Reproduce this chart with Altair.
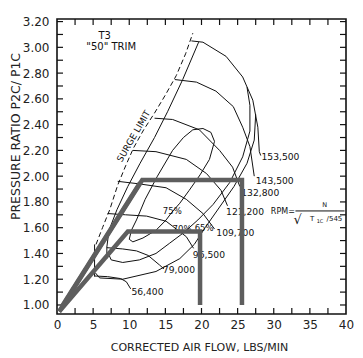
import altair as alt
import pandas as pd

X_DOMAIN = [0, 40]
Y_DOMAIN = [0.93, 3.22]
W, H = 289, 295

X_LABELS = [0, 5, 10, 15, 20, 25, 30, 35, 40]
Y_LABELS = [1.0, 1.2, 1.4, 1.6, 1.8, 2.0, 2.2, 2.4, 2.6, 2.8, 3.0, 3.2]
X_TICKS = [2.5, 5, 7.5, 10, 12.5, 15, 17.5, 20, 22.5, 25, 27.5, 30, 32.5, 35, 37.5]
Y_TICKS = [1.0, 1.1, 1.2, 1.3, 1.4, 1.5, 1.6, 1.7, 1.8, 1.9, 2.0, 2.1, 2.2, 2.3,
           2.4, 2.5, 2.6, 2.7, 2.8, 2.9, 3.0, 3.1, 3.2]

# speed lines
S153_X = [18.6, 20.2, 23.4, 25.7, 27.1, 27.8, 28.0, 28.2]
S153_Y = [3.05, 3.04, 2.93, 2.77, 2.59, 2.38, 2.19, 2.16]
S143_X = [16.3, 19.3, 22.0, 24.4, 25.7, 26.7, 27.3]
S143_Y = [2.75, 2.73, 2.66, 2.54, 2.38, 2.23, 2.00]
S132_X = [13.5, 16.0, 19.7, 22.5, 24.3, 25.3]
S132_Y = [2.45, 2.44, 2.36, 2.20, 2.07, 1.92]
S121_X = [10.5, 13.7, 17.9, 20.7, 22.7, 23.6]
S121_Y = [2.20, 2.19, 2.13, 2.02, 1.89, 1.77]
S109_X = [8.4, 11.4, 15.1, 17.9, 20.2, 21.8]
S109_Y = [1.96, 1.94, 1.91, 1.82, 1.71, 1.59]
S96_X = [7.0, 9.5, 12.4, 15.1, 17.9, 18.9]
S96_Y = [1.71, 1.70, 1.69, 1.65, 1.53, 1.44]
S79_X = [6.9, 9.1, 11.0, 12.6, 14.2, 14.8]
S79_Y = [1.445, 1.435, 1.42, 1.385, 1.31, 1.28]
S56_X = [5.2, 7.0, 8.8, 9.6, 10.2]
S56_Y = [1.225, 1.22, 1.205, 1.18, 1.125]

# surge lines
SURGE_DASH_X = [5.4, 6.3, 7.3, 8.4, 9.5, 10.6, 12.0, 13.5, 15.0, 16.5, 17.8, 18.8]
SURGE_DASH_Y = [1.47, 1.60, 1.74, 1.93, 2.08, 2.22, 2.36, 2.49, 2.63, 2.78, 2.95, 3.11]
SURGE_SOLID_X = [6.9, 6.9, 7.2, 8.3, 9.8, 11.5, 13.5, 15.3, 17.4, 19.6]
SURGE_SOLID_Y = [1.36, 1.45, 1.58, 1.74, 1.92, 2.10, 2.30, 2.50, 2.75, 3.04]
LOW_SURGE_X = [5.2, 5.2]
LOW_SURGE_Y = [1.47, 1.22]

# efficiency islands
E75_X = [10.0, 10.3, 11.0, 12.2, 13.9, 16.0, 17.5, 18.8, 20.2, 21.3, 21.8, 21.1,
         19.8, 18.3, 17.0, 15.9, 15.1, 13.7, 11.9, 10.5, 10.0]
E75_Y = [1.51, 1.58, 1.66, 1.82, 2.00, 2.20, 2.30, 2.36, 2.37, 2.34, 2.27, 2.13,
         2.01, 1.89, 1.79, 1.72, 1.66, 1.58, 1.52, 1.49, 1.51]
E70_X = [7.1, 7.5, 9.1, 11.4, 13.7, 15.6, 17.5, 19.5, 21.6, 23.9, 25.7, 26.7, 26.7, 26.3]
E70_Y = [1.40, 1.35, 1.33, 1.35, 1.40, 1.48, 1.56, 1.66, 1.78, 1.95, 2.15, 2.35, 2.55, 2.69]
E65_X = [5.3, 5.9, 9.1, 13.7, 17.0, 19.0, 20.5, 22.5, 24.5, 26.3, 27.3, 27.5]
E65_Y = [1.25, 1.21, 1.20, 1.26, 1.36, 1.47, 1.60, 1.76, 1.92, 2.10, 2.28, 2.48]

# thick gray overlay paths
G_UP1_X = [0.3, 11.8, 25.6, 25.6]
G_UP1_Y = [0.95, 1.97, 1.97, 1.00]
G_UP2_X = [0.7, 11.5]
G_UP2_Y = [0.99, 1.95]
G_LOW_X = [0.3, 9.8, 19.8, 19.8]
G_LOW_Y = [0.95, 1.57, 1.57, 1.00]

# labels
SPEED_TEXT = ["153,500", "143,500", "132,800", "121,200", "109,700", "96,500", "79,000", "56,400"]
SPEED_TX = [28.3, 27.5, 25.5, 23.4, 22.05, 18.8, 14.65, 10.3]
SPEED_TY = [2.15, 1.965, 1.87, 1.725, 1.555, 1.39, 1.27, 1.10]
EFF_TEXT = ["75%", "70%", "65%"]
EFF_TX = [14.65, 16.0, 19.05]
EFF_TY = [1.73, 1.59, 1.60]


def path(name, xs, ys):
    return pd.DataFrame({"name": name, "i": list(range(len(xs))), "x": xs, "y": ys})


X = alt.X("x:Q", scale=alt.Scale(domain=X_DOMAIN, nice=False, zero=False),
          axis=alt.Axis(values=X_LABELS, ticks=False, domain=False, grid=False,
                        labelFlush=False, labelFont="DejaVu Sans", labelFontSize=12,
                        labelColor="#222", labelPadding=5,
                        title="CORRECTED AIR FLOW, LBS/MIN", titleFont="DejaVu Sans",
                        titleFontSize=11, titleFontWeight="normal", titleColor="#222",
                        titleX=142, titleY=33, titleBaseline="middle", titleAlign="center"))
Y = alt.Y("y:Q", scale=alt.Scale(domain=Y_DOMAIN, nice=False, zero=False),
          axis=alt.Axis(values=Y_LABELS, format=".2f", ticks=False, domain=False, grid=False,
                        labelFlush=False, labelFont="DejaVu Sans", labelFontSize=12,
                        labelColor="#222", labelPadding=8,
                        title="PRESSURE RATIO P2C/ P1C", titleFont="DejaVu Sans",
                        titleFontSize=12.5, titleFontWeight="normal", titleColor="#222",
                        titleX=-42, titleY=117, titleBaseline="middle", titleAlign="center",
                        titleAngle=270))

thin = pd.concat([
    path("153,500", S153_X, S153_Y), path("143,500", S143_X, S143_Y),
    path("132,800", S132_X, S132_Y), path("121,200", S121_X, S121_Y),
    path("109,700", S109_X, S109_Y), path("96,500", S96_X, S96_Y),
    path("79,000", S79_X, S79_Y), path("56,400", S56_X, S56_Y),
    path("surge", SURGE_SOLID_X, SURGE_SOLID_Y), path("lowsurge", LOW_SURGE_X, LOW_SURGE_Y),
    path("e75", E75_X, E75_Y), path("e70", E70_X, E70_Y), path("e65", E65_X, E65_Y),
])
dash = path("dash", SURGE_DASH_X, SURGE_DASH_Y)
gray = pd.concat([path("u1", G_UP1_X, G_UP1_Y), path("u2", G_UP2_X, G_UP2_Y),
                  path("low", G_LOW_X, G_LOW_Y)])

thin_layer = alt.Chart(thin).mark_line(color="#111", strokeWidth=1).encode(
    x=X, y=Y, detail="name:N", order="i:Q")
dash_layer = alt.Chart(dash).mark_line(color="#111", strokeWidth=1, strokeDash=[5, 3]).encode(
    x=X, y=Y, detail="name:N", order="i:Q")
gray_layer = alt.Chart(gray).mark_line(color="#5e5e5e", strokeWidth=4.5, strokeCap="butt",
                                       strokeJoin="miter").encode(
    x=X, y=Y, detail="name:N", order="i:Q")

speed_df = pd.DataFrame({"x": SPEED_TX, "y": SPEED_TY, "t": SPEED_TEXT})
speed_text = alt.Chart(speed_df).mark_text(align="left", baseline="middle", font="DejaVu Sans",
                                           fontSize=9.2, color="#111").encode(x=X, y=Y, text="t:N")
eff_df = pd.DataFrame({"x": EFF_TX, "y": EFF_TY, "t": EFF_TEXT})
eff_text = alt.Chart(eff_df).mark_text(align="left", baseline="middle", font="DejaVu Sans",
                                       fontSize=8.5, color="#111").encode(x=X, y=Y, text="t:N")

misc_df = pd.DataFrame({"x": [6.6, 7.5], "y": [3.09, 3.00], "t": ["T3", "\"50\"  TRIM"]})
misc_text = alt.Chart(misc_df).mark_text(align="center", baseline="middle", font="DejaVu Sans",
                                         fontSize=10, color="#111").encode(x=X, y=Y, text="t:N")
surge_df = pd.DataFrame({"x": [10.6], "y": [2.31], "t": ["SURGE  LIMIT"]})
surge_text = alt.Chart(surge_df).mark_text(align="center", baseline="middle", font="DejaVu Sans",
                                           fontSize=9, angle=300, color="#111").encode(
    x=X, y=Y, text="t:N")

rpm_df = pd.DataFrame({"x": [29.6], "y": [1.725], "t": ["RPM="]})
rpm_text = alt.Chart(rpm_df).mark_text(align="left", baseline="middle", font="DejaVu Sans",
                                       fontSize=8, color="#111").encode(x=X, y=Y, text="t:N")
form_df = pd.DataFrame({"x": [37.05, 35.3, 36.4, 38.4], "y": [1.775, 1.67, 1.65, 1.67],
                        "t": ["N", "T", "1C", "/545"], "s": [6.5, 7, 5, 7]})
form_text = alt.Chart(form_df).mark_text(align="center", baseline="middle", font="DejaVu Sans",
                                         color="#111").encode(
    x=X, y=Y, text="t:N", size=alt.Size("s:Q", scale=None, legend=None))
sqrt_df = pd.DataFrame({"x": [33.3], "y": [1.66], "t": ["√"]})
sqrt_text = alt.Chart(sqrt_df).mark_text(align="center", baseline="middle", font="DejaVu Sans",
                                         fontSize=13, color="#111").encode(x=X, y=Y, text="t:N")
bar_df = pd.DataFrame({"x": [33.0], "x2": [39.8], "y": [1.73]})
bar_layer = alt.Chart(bar_df).mark_rule(color="#111", strokeWidth=1).encode(
    x=X, x2="x2:Q", y=Y)

xt = pd.DataFrame({"x": X_TICKS})
yt = pd.DataFrame({"y": Y_TICKS})
tick_b = alt.Chart(xt).mark_rule(color="#111", strokeWidth=1.2).encode(
    x=X, y=alt.value(H), y2=alt.value(H - 6))
tick_t = alt.Chart(xt).mark_rule(color="#111", strokeWidth=1.2).encode(
    x=X, y=alt.value(0), y2=alt.value(6))
tick_l = alt.Chart(yt).mark_rule(color="#111", strokeWidth=1.2).encode(
    y=Y, x=alt.value(0), x2=alt.value(6))
tick_r = alt.Chart(yt).mark_rule(color="#111", strokeWidth=1.2).encode(
    y=Y, x=alt.value(W), x2=alt.value(W - 6))

chart = alt.layer(
    tick_b, tick_t, tick_l, tick_r,
    thin_layer, dash_layer,
    speed_text, eff_text, misc_text, surge_text, rpm_text, form_text, sqrt_text, bar_layer,
    gray_layer,
).properties(
    width=W, height=H,
    autosize=alt.AutoSizeParams(type="none"),
    padding={"left": 49, "top": 11, "right": 9, "bottom": 44},
    background="white",
).configure_view(stroke="#111", strokeWidth=1.6)

chart.save("out.html", embed_options={"renderer": "svg", "actions": False})
